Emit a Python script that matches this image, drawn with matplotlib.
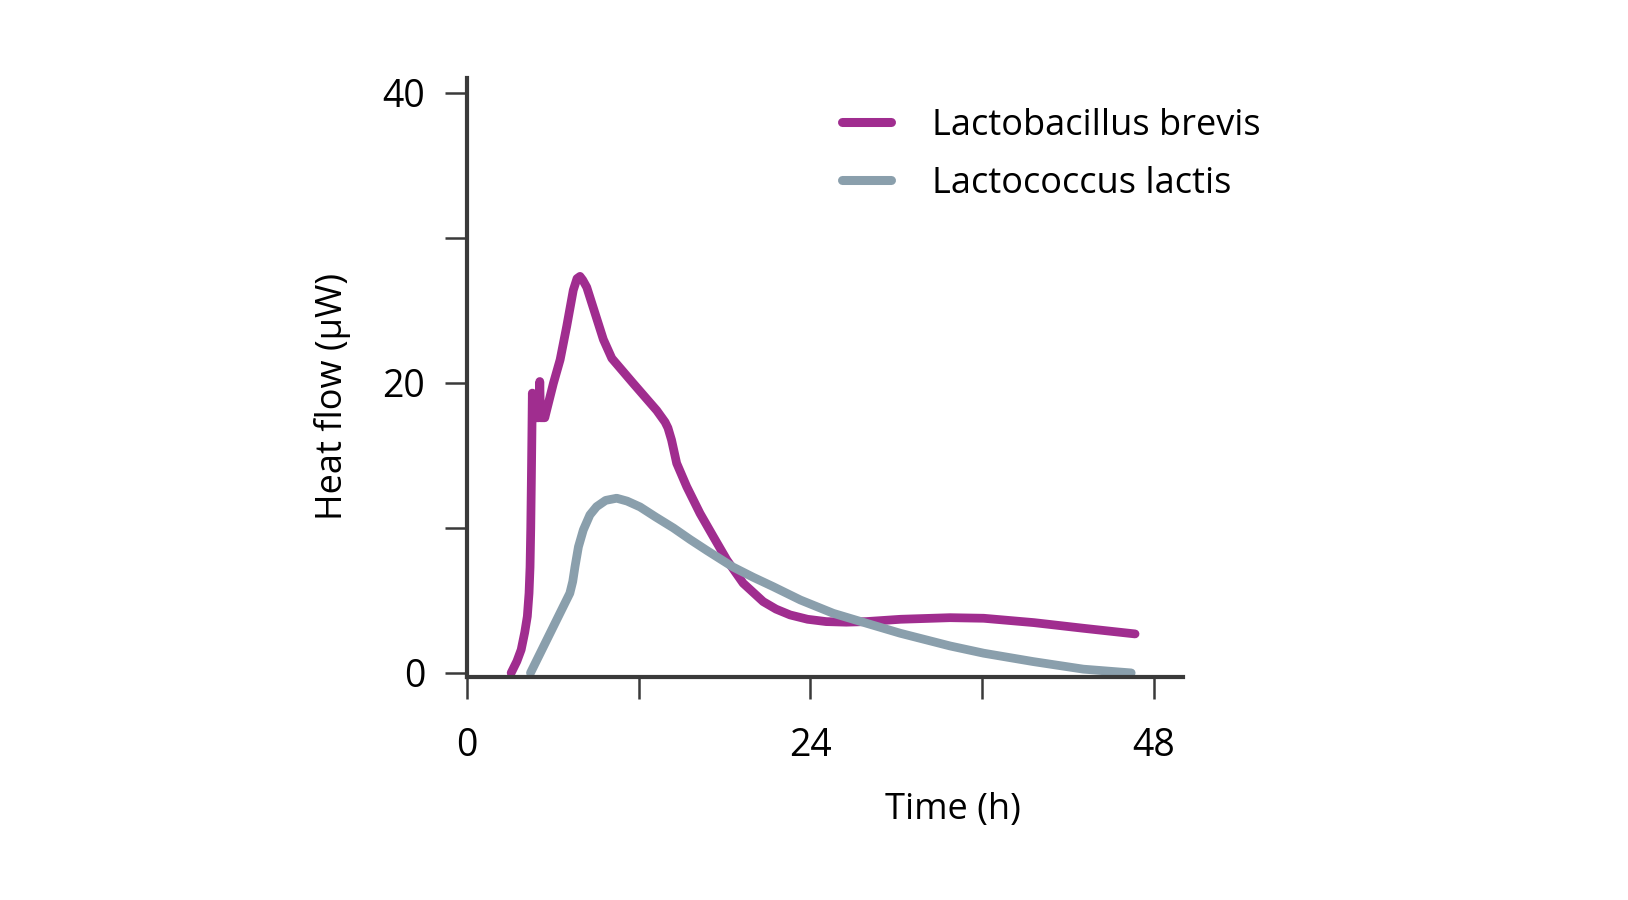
import matplotlib
matplotlib.use("Agg")
import matplotlib.pyplot as plt

# heat flow curves
t_brevis = [3.1, 3.5, 3.8, 4.05, 4.23, 4.35, 4.42, 4.47, 4.51, 4.55, 4.58, 4.62,
            5.05, 5.1, 5.15, 5.45, 5.6, 6.05, 6.52, 6.98, 7.44, 7.7, 7.91, 8.1,
            8.38, 8.96, 9.54, 10.13, 11.6, 13.27, 13.85, 14.05, 14.3, 14.66, 15.36,
            16.29, 17.22, 18.16, 19.3, 20.7, 21.6, 22.58, 23.8, 25.1, 26.5, 27.9,
            30.3, 33.75, 36.1, 39.6, 43.06, 46.67]
heat_brevis = [0, 0.8, 1.6, 2.8, 3.9, 5.5, 7.3, 10.0, 13.1, 16.5, 19.3, 17.6,
               17.6, 20.1, 17.6, 17.6, 18.2, 19.97, 21.6, 23.9, 26.4, 27.2, 27.35, 27.1,
               26.6, 24.8, 23.0, 21.7, 20.0, 18.1, 17.3, 16.9, 16.07, 14.46, 12.85,
               11.0, 9.4, 7.8, 6.19, 4.92, 4.4, 4.0, 3.7, 3.54, 3.5, 3.54,
               3.7, 3.81, 3.77, 3.47, 3.08, 2.69]

t_lactis = [4.45, 5.1, 5.82, 6.5, 7.2, 7.4, 7.56, 7.8, 8.14, 8.6, 9.07, 9.7,
            10.47, 11.2, 12.1, 13.2, 14.43, 15.6, 16.76, 18.6, 20.0, 21.4, 23.3,
            25.6, 27.9, 30.26, 33.75, 36.1, 39.57, 43.06, 46.4]
heat_lactis = [0, 1.3, 2.74, 4.1, 5.5, 6.3, 7.33, 8.7, 9.86, 10.9, 11.47, 11.9,
               12.05, 11.85, 11.45, 10.75, 10.0, 9.2, 8.45, 7.3, 6.6, 5.95, 5.03,
               4.11, 3.43, 2.74, 1.86, 1.36, 0.78, 0.26, 0.0]

labels = ["Lactobacillus brevis", "Lactococcus lactis"]
colors = ["#a02d8f", "#8a9fac"]

plt.rcParams['font.family'] = ['Open Sans', 'DejaVu Sans']
fs = 26

fig = plt.figure(figsize=(16.28, 9), dpi=100)
ax = fig.add_axes([0.2867, 0.2478, 0.4398, 0.665])

ax.plot(t_brevis, heat_brevis, color=colors[0], lw=6.3, label=labels[0],
        solid_capstyle='round', solid_joinstyle='round')
ax.plot(t_lactis, heat_lactis, color=colors[1], lw=6.3, label=labels[1],
        solid_capstyle='round', solid_joinstyle='round')

ax.set_xlim(0, 50)
ax.set_ylim(-0.28, 41)
ax.set_xticks([0, 12, 24, 36, 48])
ax.set_xticklabels(["0", "", "24", "", "48"])
ax.set_yticks([0, 10, 20, 30, 40])
ax.set_yticklabels(["0", "", "20", "", "40"])

for s in ["top", "right"]:
    ax.spines[s].set_visible(False)
for s in ["left", "bottom"]:
    ax.spines[s].set_linewidth(3)
    ax.spines[s].set_color("#3a3a3a")
ax.tick_params(axis="both", colors="#3a3a3a", labelcolor="black", width=1.8,
               length=16, labelsize=27)
ax.tick_params(axis="y", pad=14)
ax.tick_params(axis="x", pad=20)

ax.set_xlabel("Time (h)", fontsize=fs)
ax.xaxis.set_label_coords(0.679, -0.193)
ax.set_ylabel("Heat flow (\u00b5W)", fontsize=fs)
ax.yaxis.set_label_coords(-0.162, 0.468)

leg = ax.legend(loc="upper left", bbox_to_anchor=(842 / 1628, 1 - 108 / 900),
                bbox_transform=fig.transFigure, frameon=False, fontsize=fs,
                handlelength=1.35, handletextpad=1.15, labelspacing=0.6,
                borderpad=0, borderaxespad=0)
for h in leg.get_lines():
    h.set_linewidth(6.5)
    h.set_solid_capstyle('round')

fig.savefig("out.png", dpi=100)
